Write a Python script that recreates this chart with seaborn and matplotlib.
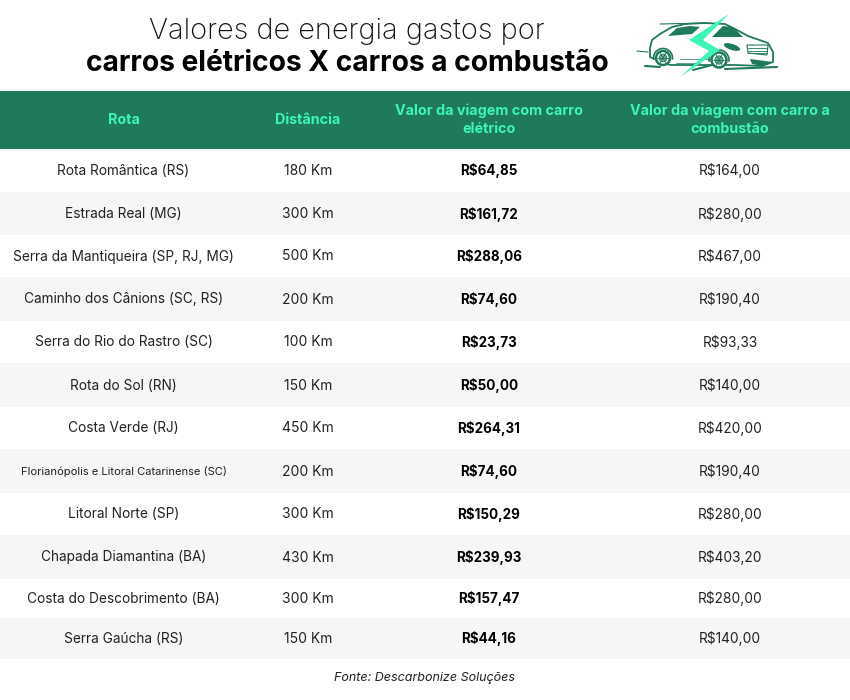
"""
Valores de energia: carros eletricos x carros a combustao (tabela)
"""

import numpy as np
import matplotlib
matplotlib.use("Agg")
import matplotlib.pyplot as plt
from matplotlib.patches import Polygon, Ellipse, Circle, Arc
import seaborn as sns

rotas = [
    "Rota Romântica (RS)", "Estrada Real (MG)", "Serra da Mantiqueira (SP, RJ, MG)",
    "Caminho dos Cânions (SC, RS)", "Serra do Rio do Rastro (SC)", "Rota do Sol (RN)",
    "Costa Verde (RJ)", "Florianópolis e Litoral Catarinense (SC)", "Litoral Norte (SP)",
    "Chapada Diamantina (BA)", "Costa do Descobrimento (BA)", "Serra Gaúcha (RS)",
]
distancias = [180, 300, 500, 200, 100, 150, 450, 200, 300, 430, 300, 150]
valor_eletrico = [64.85, 161.72, 288.06, 74.60, 23.73, 50.00, 264.31, 74.60, 150.29, 239.93, 157.47, 44.16]
valor_combustao = [164.00, 280.00, 467.00, 190.40, 93.33, 140.00, 420.00, 190.40, 280.00, 403.20, 280.00, 140.00]
cabecalho = ["Rota", "Distância", "Valor da viagem com carro\nelétrico", "Valor da viagem com carro a\ncombustão"]

VERDE = "#1f7a5c"
MENTA = "#3ef5b8"
CINZA = "#f6f6f4"
FONTE = "Inter"

W, H = 850, 700
COL_X = [123.5, 308, 489, 730]
# altura de cada linha em pixels (as faixas do original nao sao iguais)
ALTURAS = [43, 43, 42, 44, 42, 44, 42, 44, 42, 44, 39, 41]


def brl(v):
    return "R$" + f"{v:.2f}".replace(".", ",")


def px_axes(fig, x0, y0, x1, y1):
    return fig.add_axes([x0 / W, 1 - y1 / H, (x1 - x0) / W, (y1 - y0) / H])


def desenha_roda(ax, cx, cy, r):
    ax.add_patch(Arc((cx, cy), 2 * r + 5, 2 * r + 5, theta1=170, theta2=370, color=VERDE, lw=1.2, zorder=4))
    ax.add_patch(Circle((cx, cy), r, fc="white", ec=VERDE, lw=1.8, zorder=5))
    ax.add_patch(Circle((cx, cy), r * 0.55, fc="#6fae98", ec=VERDE, lw=0.6, zorder=6))
    for a in np.deg2rad([0, 60, 120]):
        dx, dy = r * 0.8 * np.cos(a), r * 0.8 * np.sin(a)
        ax.plot([cx - dx, cx + dx], [cy - dy, cy + dy], color=VERDE, lw=0.6, zorder=7)


def desenha_carro(ax):
    # icone do carro, coordenadas em pixels da imagem
    corpo = [(650, 57), (650, 48), (652, 40), (660, 34), (672, 27), (685, 24), (705, 23), (725, 24),
             (737, 30), (748, 36), (768, 43), (773, 52), (773, 62), (762, 66), (735, 65), (670, 65), (657, 60)]
    ax.add_patch(Polygon(corpo, closed=True, fc="white", ec=VERDE, lw=1.3, joinstyle="round", zorder=3))
    ax.add_patch(Polygon([(668, 36), (677, 28), (690, 26), (700, 27), (692, 34)], fc=VERDE, ec="none", zorder=4))
    ax.add_patch(Polygon([(712, 37), (723, 26), (733, 27), (743, 37)], fc=VERDE, ec="none", zorder=4))
    ax.add_patch(Ellipse((732, 47), 17, 6, angle=18, fc=VERDE, ec="none", zorder=4))
    ax.add_patch(Polygon([(747, 45), (768, 45), (767, 55), (748, 53)], fc="white", ec=VERDE, lw=0.8, zorder=4))
    for yy in (48, 50.5, 53):
        ax.plot([748, 767], [yy, yy], color=VERDE, lw=0.6, zorder=5)
    ax.add_patch(Polygon([(750, 59), (773, 62), (762, 66), (752, 64)], fc=VERDE, ec="none", zorder=4))
    desenha_roda(ax, 663, 58, 7)
    desenha_roda(ax, 719, 60, 7.5)
    riscos = [(637, 648, 51, 52, 0.8), (660, 708, 24, 23, 0.8), (645, 660, 66, 67, 1.5),
              (680, 712, 59, 59, 0.5), (676, 700, 63, 63, 0.5), (725, 777, 69, 67, 1.5), (693, 712, 70, 65, 1.5)]
    for xa, xb, ya, yb, lw in riscos:
        ax.plot([xa, xb], [ya, yb], color=VERDE, lw=lw, solid_capstyle="round", zorder=2 if lw > 1 else 6)
    raio = [(729, 14), (689, 40), (709, 51), (680, 77), (720, 50), (703, 40)]
    ax.add_patch(Polygon(raio, closed=True, fc=MENTA, ec="none", zorder=8))


sns.set_theme(style="white")
plt.rcParams["font.family"] = [FONTE, "DejaVu Sans"]

fig = plt.figure(figsize=(8.5, 7), dpi=100, facecolor="white")

# faixas do corpo da tabela, uma celula por pixel de altura
ax_linhas = px_axes(fig, 0, 149, W, 659)
faixas = np.repeat(np.array([[i % 2] for i in range(len(rotas))]), ALTURAS, axis=0)
sns.heatmap(faixas, ax=ax_linhas, cmap=["white", CINZA], cbar=False, xticklabels=False,
            yticklabels=False, vmin=0, vmax=1)

# faixa do cabecalho
ax_cab = px_axes(fig, 0, 91, W, 149)
sns.heatmap(np.zeros((1, 1)), ax=ax_cab, cmap=[VERDE], cbar=False, xticklabels=False, yticklabels=False)

# camada de texto em pixels
ax = fig.add_axes([0, 0, 1, 1], facecolor="none")
ax.set_xlim(0, W)
ax.set_ylim(H, 0)
ax.axis("off")

ax.text(347, 31.5, "Valores de energia gastos por", ha="center", va="center", fontsize=20.8,
        fontweight="light", color="#111111")
ax.text(347, 63.5, "carros elétricos X carros a combustão", ha="center", va="center", fontsize=20.3,
        fontweight="bold", color="black")

desenha_carro(ax)

for x, t in zip(COL_X, cabecalho):
    ax.text(x, 119.5, t, ha="center", va="center", fontsize=10.3, fontweight="bold", color=MENTA,
            linespacing=1.38)

topo = 149
for i, rota in enumerate(rotas):
    y = topo + ALTURAS[i] / 2 + 0.5
    topo += ALTURAS[i]
    tam = 8.05 if len(rota) > 35 else 9.85
    ax.text(COL_X[0], y, rota, ha="center", va="center", fontsize=tam, color="#222222")
    ax.text(COL_X[1], y, f"{distancias[i]} Km", ha="center", va="center", fontsize=10, color="#222222")
    ax.text(COL_X[2], y, brl(valor_eletrico[i]), ha="center", va="center", fontsize=9.7,
            fontweight="bold", color="black")
    ax.text(COL_X[3], y, brl(valor_combustao[i]), ha="center", va="center", fontsize=9.85, color="#222222")

ax.text(425, 678, "Fonte: Descarbonize Soluções", ha="center", va="center", fontsize=9.05,
        style="italic", color="#222222")

fig.savefig("out.png", dpi=100, facecolor="white")
